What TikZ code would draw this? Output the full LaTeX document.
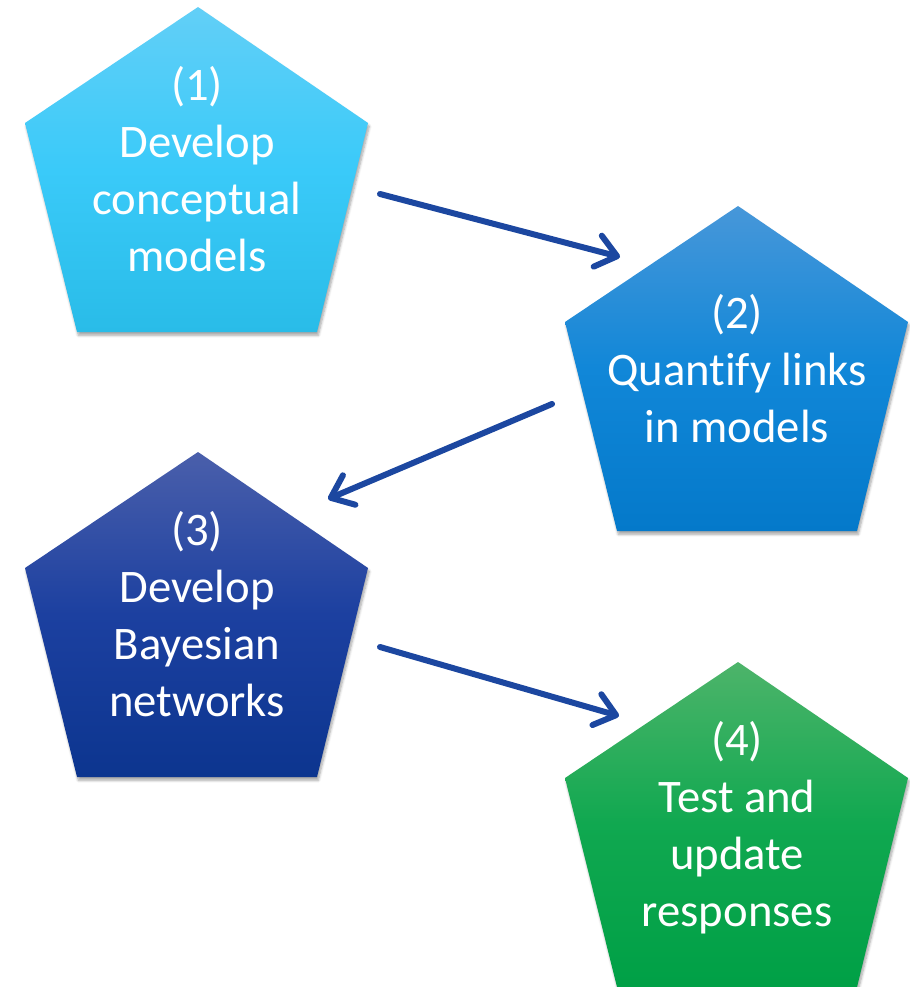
\documentclass[tikz,border=0pt]{standalone}
\usepackage{fontspec}
\setmainfont{Carlito}[Ligatures=NoCommon]
\usetikzlibrary{positioning, arrows.meta, shadows.blur}

\definecolor{conceptTop}{HTML}{62CFF7}
\definecolor{conceptMid}{HTML}{3ACAF9}
\definecolor{conceptBot}{HTML}{29BCE8}
\definecolor{quantTop}{HTML}{4797D9}
\definecolor{quantMid}{HTML}{1187D8}
\definecolor{quantBot}{HTML}{0479CA}
\definecolor{bayesTop}{HTML}{4A5FAB}
\definecolor{bayesMid}{HTML}{1C40A0}
\definecolor{bayesBot}{HTML}{0C358F}
\definecolor{testTop}{HTML}{4DB46A}
\definecolor{testMid}{HTML}{10A850}
\definecolor{testBot}{HTML}{00A046}
\definecolor{flowBlue}{HTML}{1C47A0}

\begin{document}
\begin{tikzpicture}[x=0.75pt, y=-0.75pt, >={Straight Barb[length=15pt, width=24pt, round]},
    block/.style={blur shadow={shadow xshift=1pt, shadow yshift=-2.5pt, shadow blur steps=6, shadow opacity=35}},
    steplabel/.style={text=white, align=center, font=\fontsize{35}{42.75}\selectfont},
    flow/.style={->, line width=4.5pt, draw=flowBlue, line cap=round}]
    \useasboundingbox (0,0) rectangle (909,987);

    % Pentagons
    \path[block, top color=conceptTop, bottom color=conceptBot, middle color=conceptMid]
      (198,7) -- (368,123) -- (317,332) -- (77,332) -- (25,123) -- cycle;
    \path[block, top color=quantTop, bottom color=quantBot, middle color=quantMid, shift={(540,199)}]
      (198,7) -- (368,123) -- (317,332) -- (77,332) -- (25,123) -- cycle;
    \path[block, top color=bayesTop, bottom color=bayesBot, middle color=bayesMid, shift={(0,445)}]
      (198,7) -- (368,123) -- (317,332) -- (77,332) -- (25,123) -- cycle;
    \path[block, top color=testTop, bottom color=testBot, middle color=testMid, shift={(540,655)}]
      (198,7) -- (368,123) -- (317,332) -- (77,332) -- (25,123) -- cycle;

    % Step labels
    \node[steplabel] (concept) at (197,175)
      {\strut(1)\\\strut Develop\\\strut conceptual\\\strut models};
    \node[steplabel] (quantify) at (737,374)
      {\strut(2)\\\strut Quantify links\\\strut in models};
    \node[steplabel] (bayes) at (197,620)
      {\strut(3)\\\strut Develop\\\strut Bayesian\\\strut networks};
    \node[steplabel] (test) at (737,830)
      {\strut(4)\\\strut Test and\\\strut update\\\strut responses};

    % Arrows between steps
    \coordinate (a1s) at (380,194);
    \coordinate (a1e) at (620,257);
    \coordinate (a2s) at (552,404);
    \coordinate (a2e) at (328,499);
    \coordinate (a3s) at (380,647);
    \coordinate (a3e) at (619,716);
    \draw[flow] (a1s) -- (a1e);
    \draw[flow] (a2s) -- (a2e);
    \draw[flow] (a3s) -- (a3e);
\end{tikzpicture}
\end{document}
